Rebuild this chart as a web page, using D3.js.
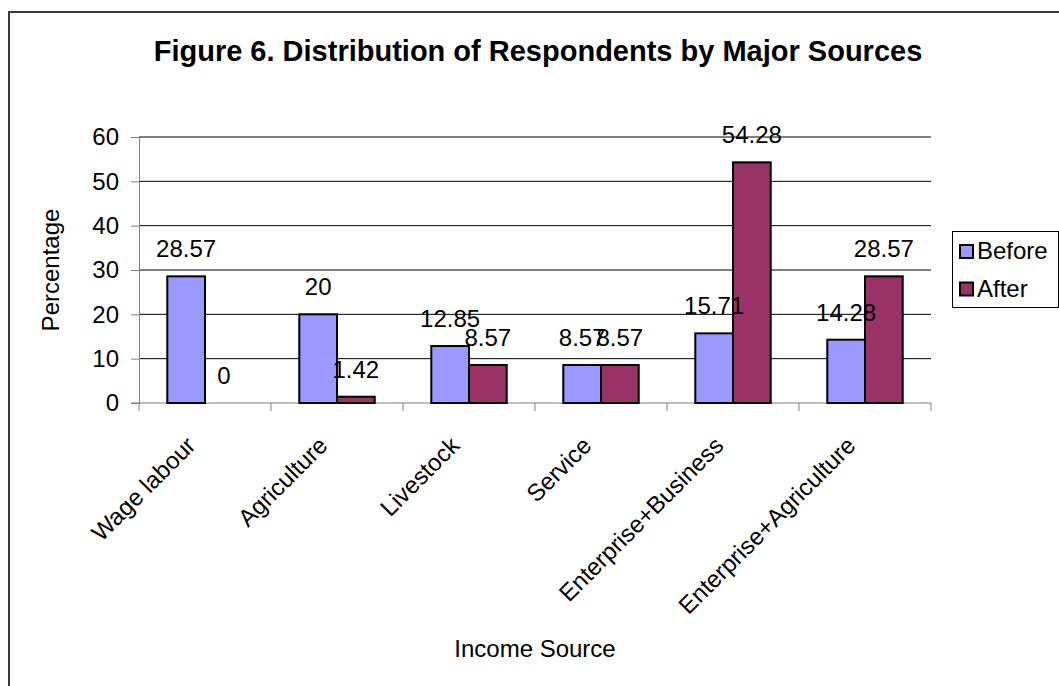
<!DOCTYPE html>
<html>
<head>
<meta charset="utf-8">
<script src="https://cdn.jsdelivr.net/npm/d3@7"></script>
<style>
  html, body { margin: 0; padding: 0; background: #fff; }
  svg { display: block; font-family: Arial, "Liberation Sans", sans-serif; }
</style>
</head>
<body>
<svg id="chart" width="1059" height="686"></svg>
<script>
// Income sources and the share of respondents before / after
const categories = ["Wage labour", "Agriculture", "Livestock", "Service", "Enterprise+Business", "Enterprise+Agriculture"];
const beforeValues = [28.57, 20, 12.85, 8.57, 15.71, 14.28];
const afterValues = [0, 1.42, 8.57, 8.57, 54.28, 28.57];
const seriesNames = ["Before", "After"];
const seriesColors = ["#9999FF", "#993366"];
const yTicks = [0, 10, 20, 30, 40, 50, 60];

const svg = d3.select("#chart");
const W = 1059, H = 686;
const plot = { left: 139, right: 931, top: 137, bottom: 403 };

// outer frame (left and top edges visible)
svg.append("path")
  .attr("d", `M9,${H + 2} L9,12 L${W + 2},12`)
  .attr("fill", "none").attr("stroke", "#3a3a3a").attr("stroke-width", 2);

// title
svg.append("text")
  .attr("x", 538).attr("y", 61)
  .attr("text-anchor", "middle")
  .attr("font-size", 29).attr("font-weight", "bold")
  .text("Figure 6. Distribution of Respondents by Major Sources");

const x = d3.scaleBand().domain(categories).range([plot.left, plot.right]).paddingInner(0).paddingOuter(0);
const y = d3.scaleLinear().domain([0, 60]).range([plot.bottom, plot.top]);

const bw = x.bandwidth();
const barW = bw / 3.5;             // gap width 150%
const gap = (bw - 2 * barW) / 2;

// horizontal gridlines
svg.append("g").selectAll("line").data(yTicks.filter(d => d > 0)).join("line")
  .attr("x1", plot.left).attr("x2", plot.right)
  .attr("y1", d => y(d)).attr("y2", d => y(d))
  .attr("stroke", "#000").attr("stroke-width", 1);

// y axis
const yAxis = svg.append("g")
  .attr("transform", `translate(${plot.left},0)`)
  .call(d3.axisLeft(y).tickValues(yTicks).tickSize(8).tickPadding(12).tickFormat(d3.format("d")));
yAxis.select(".domain").attr("stroke", "#808080");
yAxis.selectAll(".tick line").attr("stroke", "#808080");
yAxis.selectAll(".tick text").attr("font-size", 24).attr("fill", "#000")
  .attr("font-family", "Arial, 'Liberation Sans', sans-serif");

// x axis: baseline and category boundary ticks
svg.append("line")
  .attr("x1", plot.left - 8).attr("x2", plot.right)
  .attr("y1", plot.bottom).attr("y2", plot.bottom)
  .attr("stroke", "#808080");
const bounds = categories.map(c => x(c)).concat([plot.right]);
svg.append("g").selectAll("line").data(bounds).join("line")
  .attr("x1", d => d).attr("x2", d => d)
  .attr("y1", plot.bottom).attr("y2", plot.bottom + 8)
  .attr("stroke", "#808080");

// bars
const series = [beforeValues, afterValues];
series.forEach((vals, si) => {
  svg.append("g").selectAll("rect").data(categories).join("rect")
    .attr("x", c => x(c) + gap + si * barW)
    .attr("width", barW)
    .attr("y", (c, i) => y(vals[i]))
    .attr("height", (c, i) => y(0) - y(vals[i]))
    .attr("fill", seriesColors[si])
    .attr("stroke", "#000").attr("stroke-width", 2);
});

// value labels
series.forEach((vals, si) => {
  svg.append("g").selectAll("text").data(categories).join("text")
    .attr("x", c => x(c) + gap + si * barW + barW / 2)
    .attr("y", (c, i) => y(vals[i]) - 19)
    .attr("text-anchor", "middle")
    .attr("font-size", 24)
    .text((c, i) => vals[i]);
});

// category labels, rotated
svg.append("g").selectAll("text").data(categories).join("text")
  .attr("transform", c => `translate(${x(c) + bw / 2 - 8},${plot.bottom + 44}) rotate(-45)`)
  .attr("text-anchor", "end")
  .attr("font-size", 24)
  .text(c => c);

// axis titles
svg.append("text")
  .attr("x", (plot.left + plot.right) / 2).attr("y", 657)
  .attr("text-anchor", "middle").attr("font-size", 24)
  .text("Income Source");
svg.append("text")
  .attr("transform", `translate(59,${(plot.top + plot.bottom) / 2}) rotate(-90)`)
  .attr("text-anchor", "middle").attr("font-size", 24)
  .text("Percentage");

// legend
const lg = svg.append("g");
lg.append("rect")
  .attr("x", 952.5).attr("y", 231.5).attr("width", 106).attr("height", 76)
  .attr("fill", "#fff").attr("stroke", "#000").attr("stroke-width", 1);
seriesNames.forEach((name, i) => {
  lg.append("rect")
    .attr("x", 960).attr("y", 245 + i * 37.5).attr("width", 13).attr("height", 13)
    .attr("fill", seriesColors[i]).attr("stroke", "#000").attr("stroke-width", 2);
  lg.append("text")
    .attr("x", 977).attr("y", 259 + i * 37.5)
    .attr("font-size", 24)
    .text(name);
});
</script>
</body>
</html>
